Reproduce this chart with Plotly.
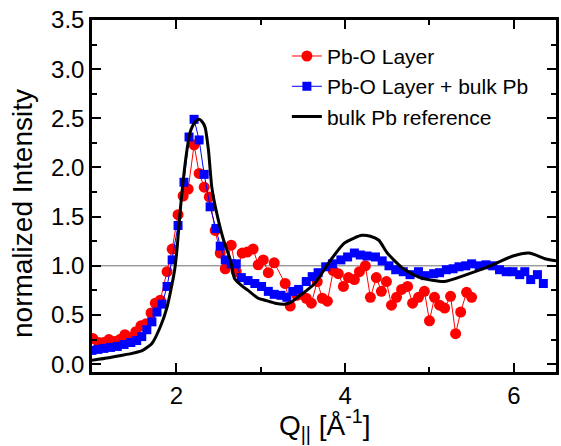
import plotly.graph_objects as go

# Pb-O Layer (red circles)
red_x = [1.01, 1.08, 1.14, 1.20, 1.27, 1.33, 1.39, 1.46, 1.52, 1.58, 1.64, 1.70, 1.75, 1.81, 1.89,
         1.95, 2.02, 2.08, 2.14, 2.21, 2.27, 2.33, 2.39, 2.46, 2.52, 2.58, 2.65, 2.71, 2.78, 2.84,
         2.91, 2.97, 3.03, 3.09, 3.16, 3.29, 3.35, 3.43, 3.54, 3.60, 3.67, 3.73, 3.79, 3.86, 3.92,
         3.98, 4.04, 4.11, 4.17, 4.24, 4.30, 4.37, 4.43, 4.49, 4.55, 4.61, 4.67, 4.74, 4.80, 4.87,
         4.94, 5.00, 5.06, 5.12, 5.18, 5.25, 5.31, 5.37, 5.44, 5.50]
red_y = [0.26, 0.22, 0.22, 0.25, 0.23, 0.25, 0.30, 0.27, 0.33, 0.39, 0.41, 0.52, 0.62, 0.65, 0.94,
         1.17, 1.52, 1.71, 1.78, 2.23, 1.94, 1.80, 1.70, 1.36, 1.13, 0.97, 1.21, 0.94, 1.13, 1.14,
         1.17, 1.01, 1.06, 0.93, 1.03, 0.82, 0.59, 0.70, 0.67, 0.62, 0.84, 0.67, 0.64, 0.95, 0.92,
         0.79, 0.88, 0.86, 0.94, 1.00, 0.68, 0.88, 0.74, 0.84, 0.60, 0.68, 0.76, 0.79, 0.62, 0.68,
         0.74, 0.44, 0.68, 0.60, 0.57, 0.69, 0.31, 0.53, 0.73, 0.68]

# Pb-O Layer + bulk Pb (blue squares)
blue_x = [1.00, 1.07, 1.14, 1.22, 1.30, 1.38, 1.46, 1.53, 1.59, 1.65, 1.71, 1.77, 1.83, 1.89, 1.95,
          2.02, 2.09, 2.15, 2.21, 2.27, 2.33, 2.40, 2.47, 2.52, 2.58, 2.65, 2.71, 2.77, 2.85, 2.93,
          3.01, 3.09, 3.16, 3.24, 3.31, 3.38, 3.45, 3.54, 3.61, 3.68, 3.77, 3.85, 3.95, 4.03, 4.11,
          4.18, 4.26, 4.36, 4.44, 4.52, 4.60, 4.69, 4.77, 4.87, 4.95, 5.05, 5.12, 5.20, 5.28, 5.35,
          5.43, 5.50, 5.59, 5.67, 5.75, 5.83, 5.91, 5.99, 6.07, 6.13, 6.20, 6.28, 6.35]
blue_y = [0.14, 0.15, 0.16, 0.17, 0.18, 0.20, 0.22, 0.24, 0.28, 0.35, 0.43, 0.53, 0.61, 0.79, 1.06,
          1.41, 1.85, 2.31, 2.49, 2.28, 1.93, 1.60, 1.38, 1.20, 1.06, 1.02, 1.02, 0.88, 0.85, 0.82,
          0.79, 0.74, 0.71, 0.70, 0.68, 0.74, 0.76, 0.84, 0.89, 0.93, 0.99, 1.02, 1.06, 1.09, 1.13,
          1.11, 1.10, 1.09, 1.05, 1.00, 0.96, 0.94, 0.91, 0.94, 0.90, 0.92, 0.93, 0.96, 0.97, 0.99,
          1.00, 1.02, 1.00, 1.01, 1.00, 0.96, 0.94, 0.94, 0.91, 0.94, 0.86, 0.91, 0.82]

# bulk Pb reference (black line)
ref_x = [1.00, 1.20, 1.36, 1.50, 1.60, 1.71, 1.81, 1.89, 1.95, 1.98, 2.01, 2.05, 2.11, 2.16, 2.22,
         2.27, 2.31, 2.34, 2.38, 2.42, 2.48, 2.56, 2.64, 2.69, 2.77, 2.85, 2.97, 3.05, 3.17, 3.28,
         3.36, 3.44, 3.64, 3.83, 3.99, 4.10, 4.20, 4.30, 4.40, 4.50, 4.69, 4.89, 5.18, 5.44, 5.75,
         5.99, 6.18, 6.38, 6.50]
ref_y = [0.04, 0.065, 0.09, 0.115, 0.14, 0.21, 0.38, 0.58, 0.82, 0.96, 1.19, 1.60, 2.08, 2.35, 2.46,
         2.49, 2.46, 2.41, 2.18, 1.80, 1.53, 1.26, 1.06, 0.87, 0.80, 0.75, 0.67, 0.65, 0.62, 0.61,
         0.63, 0.68, 0.82, 1.06, 1.23, 1.28, 1.31, 1.30, 1.26, 1.13, 0.97, 0.88, 0.84, 0.91, 1.01,
         1.10, 1.13, 1.07, 1.05]

x_ticks = [2, 4, 6]
y_ticks = [0.0, 0.5, 1.0, 1.5, 2.0, 2.5, 3.0, 3.5]

FONT = "Arial, Liberation Sans, sans-serif"

fig = go.Figure()
fig.add_trace(go.Scatter(x=red_x, y=red_y, mode="lines+markers", name="Pb-O Layer",
                         line=dict(color="#ff0000", width=1),
                         marker=dict(symbol="circle", size=11, color="#ff0000")))
fig.add_trace(go.Scatter(x=blue_x, y=blue_y, mode="lines+markers", name="Pb-O Layer + bulk Pb",
                         line=dict(color="#0000ff", width=1),
                         marker=dict(symbol="square", size=9, color="#0000ff")))
fig.add_trace(go.Scatter(x=ref_x, y=ref_y, mode="lines", name="bulk Pb reference",
                         line=dict(color="#000000", width=3, shape="spline", smoothing=0.6)))

fig.add_hline(y=1.0, line=dict(color="#707070", width=1), layer="below")

axis_common = dict(showline=True, linecolor="black", linewidth=2.5, mirror="ticks",
                   ticks="inside", ticklen=9, tickwidth=2, tickcolor="black",
                   showgrid=False, zeroline=False,
                   tickfont=dict(family=FONT, size=24, color="black"))

fig.update_xaxes(range=[1, 6.5], tickvals=x_ticks,
                 minor=dict(dtick=1, ticks="inside", ticklen=5, tickwidth=2, tickcolor="black"),
                 **axis_common)
fig.update_yaxes(range=[-0.08, 3.5], tickvals=y_ticks, tickformat=".1f",
                 minor=dict(dtick=0.25, ticks="inside", ticklen=5, tickwidth=2, tickcolor="black"),
                 **axis_common)

fig.add_annotation(text="normalized Intensity", xref="paper", yref="paper",
                   x=-0.15, y=0.45, textangle=-90, showarrow=False,
                   xanchor="center", yanchor="middle",
                   font=dict(family=FONT, size=28, color="black"))
fig.add_annotation(text="Q<sub>||</sub> [Å<sup>-1</sup>]", xref="paper", yref="paper",
                   x=0.5, y=-0.15, showarrow=False, xanchor="center", yanchor="middle",
                   font=dict(family=FONT, size=28, color="black"))

fig.update_layout(width=561, height=446,
                  margin=dict(l=92, r=2, t=20, b=74),
                  paper_bgcolor="white", plot_bgcolor="white",
                  showlegend=True,
                  legend=dict(x=0.42, y=0.955, xanchor="left", yanchor="top",
                              bgcolor="rgba(0,0,0,0)", borderwidth=0,
                              font=dict(family=FONT, size=21, color="black"),
                              tracegroupgap=0))

fig.write_html("out.html",
               config={"displayModeBar": False},
               post_script="document.body.style.margin='0';document.body.style.padding='0';"
                           "document.documentElement.style.overflow='hidden';")
